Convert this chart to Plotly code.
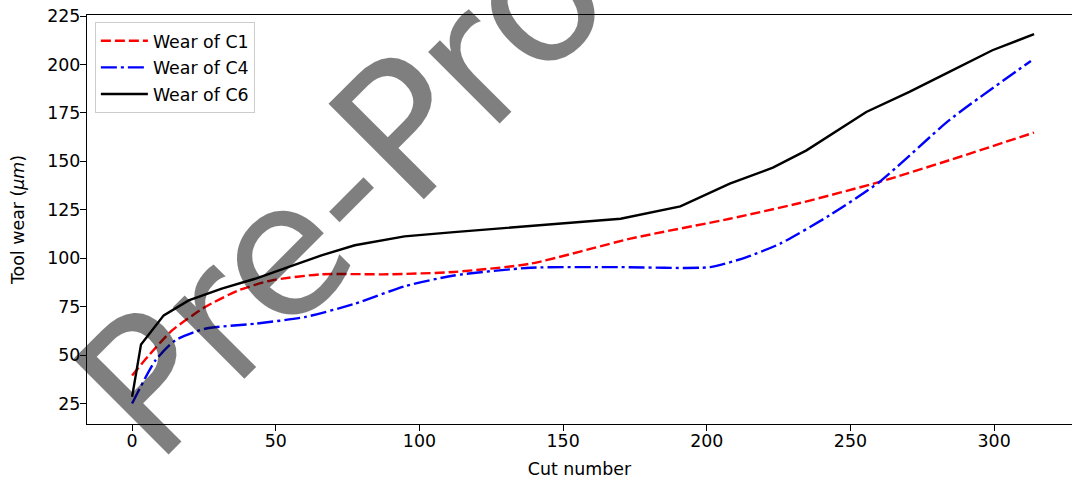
import plotly.graph_objects as go

# Wear of C1 (red dashed)
c1_x = [0, 5.8, 13.9, 25.4, 37, 48.6, 65.9, 89, 112, 138.7, 173.4, 208, 232.4, 260.1, 284.4, 313.9]
c1_y = [39.5, 49.8, 62.7, 74.8, 83.4, 88.6, 91.7, 91.7, 92.9, 97.2, 110.1, 120.4, 128.5, 139.4, 150.6, 164.9]

# Wear of C4 (blue dash-dot)
c4_x = [0, 8.1, 15, 25.4, 42.8, 60.1, 77.5, 94.8, 112, 138.7, 170, 201.2, 213.9, 225.5, 242.8, 260.1, 284.4, 312.8]
c4_y = [25, 47.2, 57.6, 63.6, 66.2, 69.6, 76.5, 85.5, 91.1, 95.1, 95.4, 95.4, 100.6, 107.5, 122.2, 139.4, 171.3, 201.9]

# Wear of C6 (black solid)
c6_x = [0, 3.1, 11, 19.7, 31.2, 42.8, 54.3, 65.9, 77.5, 94.8, 112, 138.7, 170, 190.8, 208, 223, 234.7, 255.5, 270.5, 284.4, 299.4, 313.9]
c6_y = [28.5, 55.5, 70.5, 78.2, 84.3, 89.4, 95.4, 101.5, 106.7, 111.3, 113.5, 116.5, 120.4, 126.8, 138.5, 146.8, 155.7, 175.5, 185.9, 196.2, 207.4, 215.7]

x_ticks = [0, 50, 100, 150, 200, 250, 300]
y_ticks = [25, 50, 75, 100, 125, 150, 175, 200, 225]

FONT = "DejaVu Sans"
FS = 17.4
W, H = 1072, 479

fig = go.Figure()
fig.add_trace(go.Scatter(x=c1_x, y=c1_y, mode="lines", name="Wear of C1", legendgroup="a",
                         line=dict(color="#ff0000", width=2.4, dash="10px,4px", shape="spline", smoothing=0.6)))
fig.add_trace(go.Scatter(x=c4_x, y=c4_y, mode="lines", name="Wear of C4", legendgroup="b",
                         line=dict(color="#0000ff", width=2.4, dash="16px,4px,3px,4px", shape="spline", smoothing=0.6)))
fig.add_trace(go.Scatter(x=c6_x, y=c6_y, mode="lines", name="Wear of C6", legendgroup="c",
                         line=dict(color="#000000", width=2.4)))

axis_common = dict(showline=True, linecolor="black", linewidth=1.3,
                   ticks="outside", ticklen=6, tickwidth=1.3, tickcolor="black",
                   showgrid=False, zeroline=False, automargin=False,
                   tickfont=dict(family=FONT, size=FS, color="black"))

fig.update_layout(
    width=W, height=H,
    margin=dict(l=87, r=0, t=15, b=55, autoexpand=False),
    paper_bgcolor="white", plot_bgcolor="white",
    font=dict(family=FONT, size=FS, color="black"),
    xaxis=dict(range=[-15.7, 327.1], tickvals=x_ticks, ticktext=[str(v) for v in x_ticks],
               mirror=True, ticklabelstandoff=-5,
               title=dict(text="Cut number", font=dict(family=FONT, size=FS), standoff=12),
               **axis_common),
    yaxis=dict(range=[14.4, 225.6], tickvals=y_ticks, ticktext=[str(v) for v in y_ticks],
               mirror=False, ticklabelstandoff=-4,
               title=dict(text="Tool wear (<i>μm</i>)", font=dict(family=FONT, size=FS), standoff=18),
               **axis_common),
    legend=dict(x=0.008, y=0.983, xanchor="left", yanchor="top",
                bgcolor="rgba(255,255,255,0.8)", bordercolor="#cccccc", borderwidth=1,
                font=dict(family=FONT, size=FS, color="black"),
                itemwidth=47, tracegroupgap=1, traceorder="grouped"),
    showlegend=True,
)

fig.add_annotation(text="Pre-Proof", xref="paper", yref="paper", x=0.3245, y=0.7286,
                   xanchor="center", yanchor="middle", showarrow=False, textangle=-45,
                   font=dict(family=FONT, size=185, color="rgba(0,0,0,0.5)"))

post = ("document.body.style.margin='0';document.body.style.padding='0';"
        "document.body.style.overflow='hidden';"
        "document.documentElement.style.overflow='hidden';"
        "var gd=document.getElementById('{plot_id}');"
        "Plotly.relayout(gd,{width:%d,height:%d});" % (W, H))

fig.write_html("out.html", post_script=post, config={"displayModeBar": False})
